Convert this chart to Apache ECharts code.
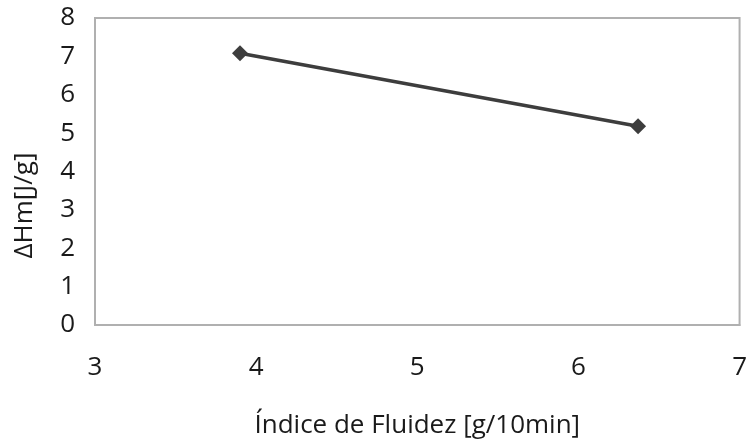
<!DOCTYPE html>
<html><head><meta charset="utf-8">
<script src="https://cdn.jsdelivr.net/npm/echarts@6/dist/echarts.min.js"></script>
<style>html,body{margin:0;padding:0;background:#fff}#c{width:750px;height:446px}</style>
</head><body><div id="c"></div>
<script>
const xValues = [3.9, 6.37];
const yValues = [7.08, 5.18];
const xTicks = [3, 4, 5, 6, 7];
const yTicks = [0, 1, 2, 3, 4, 5, 6, 7, 8];
const xName = 'Índice de Fluidez [g/10min]';
const yName = '\u0394Hm[J/g]';

const chart = echarts.init(document.getElementById('c'));
const font = '"Open Sans", "Noto Sans", sans-serif';
chart.setOption({
  animation: false,
  grid: {left: 95, right: 7, top: 18, bottom: 121, show: true, borderColor: '#b0b0b0', borderWidth: 2, containLabel: false},
  xAxis: {
    type: 'value', min: xTicks[0], max: xTicks[xTicks.length-1], interval: 1,
    name: xName, nameLocation: 'middle', nameGap: 88,
    nameTextStyle: {fontFamily: font, fontSize: 26, color: '#1a1a1a'},
    axisLine: {show: true, lineStyle: {color: '#b0b0b0', width: 2}},
    axisTick: {show: false}, splitLine: {show: false},
    axisLabel: {margin: 30, fontFamily: font, fontSize: 26, color: '#1a1a1a'}
  },
  yAxis: {
    type: 'value', min: yTicks[0], max: yTicks[yTicks.length-1], interval: 1,
    name: yName, nameLocation: 'middle', nameGap: 57,
    nameTextStyle: {fontFamily: font, fontSize: 26, color: '#1a1a1a', padding: [0, 68, 0, 0]},
    axisLine: {show: true, lineStyle: {color: '#b0b0b0', width: 2}},
    axisTick: {show: false}, splitLine: {show: false},
    axisLabel: {margin: 20, fontFamily: font, fontSize: 26, color: '#1a1a1a'}
  },
  series: [{
    type: 'line',
    data: xValues.map((x, i) => [x, yValues[i]]),
    symbol: 'diamond', symbolSize: 16,
    lineStyle: {color: '#3d3d3d', width: 3.5},
    itemStyle: {color: '#3d3d3d'}
  }]
});
</script></body></html>
